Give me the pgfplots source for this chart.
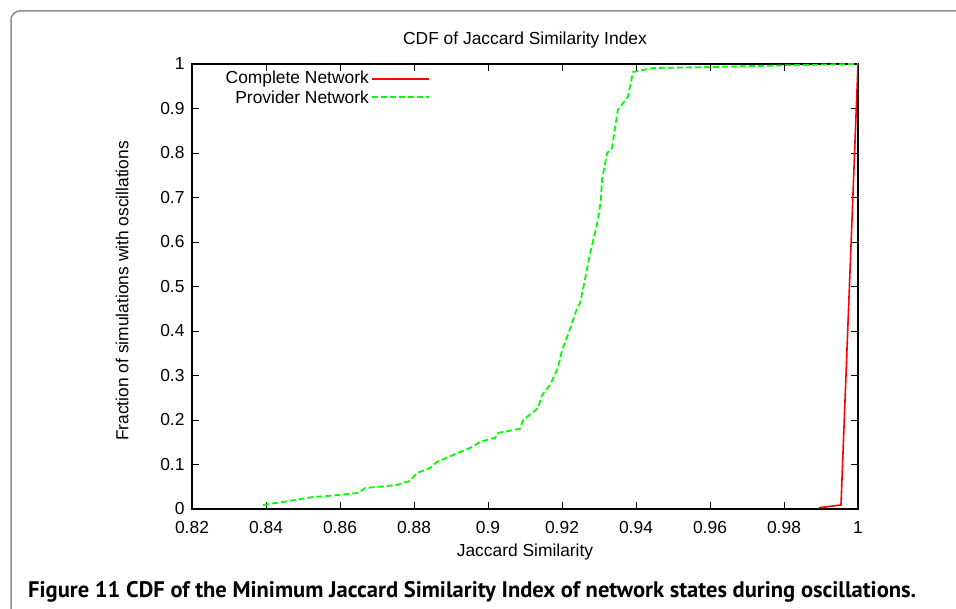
\documentclass[border=0pt]{standalone}
\usepackage{graphicx}
\usepackage{pgfplots}
\pgfplotsset{compat=1.18}
\usepackage{fontspec}
\setmainfont{Liberation Sans}
\newfontfamily\capfont{PT Sans}

\definecolor{gpred}{rgb}{1,0,0}
\definecolor{gpgreen}{rgb}{0,1,0}

\begin{document}
\begin{tikzpicture}
\useasboundingbox (0pt,0pt) rectangle (956pt,608pt);
\draw[color=gray!90, line width=1.5pt, rounded corners=9pt] (11pt,-20pt) -- (11pt,597pt) -- (990pt,597pt);

\begin{axis}[
at={(192pt,99pt)}, anchor=south west,
scale only axis, width=666pt, height=445pt,
xmin=0.82, xmax=1, ymin=0, ymax=1,
xtick={0.82,0.84,0.86,0.88,0.9,0.92,0.94,0.96,0.98,1},
ytick={0,0.1,0.2,0.3,0.4,0.5,0.6,0.7,0.8,0.9,1},
tick align=inside, tick pos=both,
major tick length=7pt,
axis line style={line width=1.2pt},
major tick style={line width=0.9pt, black},
font=\fontsize{17.4}{20}\selectfont,
/pgf/number format/assume math mode=true,
xticklabel style={anchor=base, yshift=-24pt},
yticklabel style={xshift=-4pt},
title={CDF of Jaccard Similarity Index},
title style={at={(0.5,1)}, anchor=base, yshift=13pt},
xlabel={Jaccard Similarity},
xlabel style={at={(0.5,0)}, anchor=base, yshift=-47pt},
ylabel={Fraction of simulations with oscillations},
ylabel style={at={(-0.105,0.49)}, anchor=center},
]

\addplot [no marks, line width=1.6pt, draw=gpred, sharp plot]
table {%
0.9895 0.003
0.9954 0.009
1.0000 1.000
};

\addplot [no marks, line width=1.8pt, draw=gpgreen, dash pattern=on 6pt off 3pt, sharp plot]
table {%
0.8392 0.009
0.8446 0.016
0.8527 0.027
0.8565 0.029
0.8649 0.036
0.8668 0.047
0.8754 0.054
0.8789 0.063
0.8808 0.081
0.8843 0.092
0.8862 0.106
0.8959 0.140
0.8978 0.151
0.9019 0.160
0.9027 0.171
0.9086 0.180
0.9095 0.200
0.9119 0.216
0.9135 0.227
0.9146 0.256
0.9168 0.279
0.9189 0.317
0.9200 0.357
0.9214 0.387
0.9227 0.418
0.9241 0.452
0.9249 0.463
0.9262 0.515
0.9276 0.575
0.9289 0.620
0.9297 0.649
0.9305 0.694
0.9308 0.739
0.9322 0.800
0.9335 0.811
0.9351 0.897
0.9378 0.926
0.9392 0.982
0.9446 0.991
0.9592 0.993
0.9800 0.997
0.9986 1.000
1.0000 1.000
};

% gnuplot-style key, top left
\node[anchor=east, inner sep=0pt, font=\fontsize{17.4}{20}\selectfont]
  at (axis description cs:0.2658,0.9663) {Complete Network};
\draw[line width=1.6pt, gpred] (axis description cs:0.2703,0.9663) -- (axis description cs:0.3559,0.9663);
\node[anchor=east, inner sep=0pt, font=\fontsize{17.4}{20}\selectfont]
  at (axis description cs:0.2658,0.9258) {Provider Network};
\draw[line width=1.8pt, gpgreen, dash pattern=on 6pt off 3pt] (axis description cs:0.2703,0.9258) -- (axis description cs:0.3559,0.9258);
\end{axis}

\node[anchor=base west, inner sep=0pt] at (28pt,11pt)
  {\resizebox{888pt}{!}{\capfont\bfseries Figure 11 CDF of the Minimum Jaccard Similarity Index of network states during oscillations.}};
\end{tikzpicture}
\end{document}
